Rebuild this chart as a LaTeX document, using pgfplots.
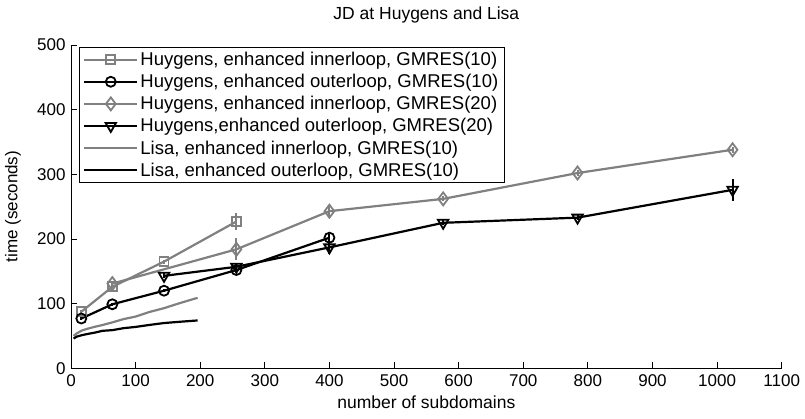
\documentclass[border=0pt]{standalone}
\usepackage{pgfplots}
\pgfplotsset{compat=1.18}
\usepackage{fontspec}
\setmainfont{Liberation Sans}
\definecolor{mg}{RGB}{128,128,128}
\begin{document}
\begin{tikzpicture}[x=1pt,y=1pt]
\useasboundingbox (-71,-50.7) rectangle (734,368.3);
\begin{axis}[
  at={(0pt,0pt)}, anchor=south west, scale only axis,
  width=710.7pt, height=323.3pt,
  xmin=0, xmax=1100, ymin=0, ymax=500,
  xtick={0,100,...,1100}, ytick={0,100,...,500},
  axis x line*=bottom, axis y line*=left,
  x axis line style={-}, y axis line style={-},
  axis line style={line width=0.8pt, black},
  tick align=inside, major tick length=6pt,
  tick style={line width=0.8pt, black},
  /pgf/number format/assume math mode=true,
  /pgf/number format/1000 sep={},
  tick label style={font=\fontsize{17}{20}\selectfont},
  xticklabel style={yshift=-3pt},
  yticklabel style={xshift=-2pt},
  xlabel={number of subdomains},
  ylabel={time (seconds)},
  title={JD at Huygens and Lisa},
  x label style={at={(axis description cs:0.5,0)}, anchor=center, yshift=-34pt, font=\fontsize{17.5}{20}\selectfont},
  y label style={at={(axis description cs:-0.0816,0.5)}, anchor=center, font=\fontsize{17}{20}\selectfont},
  title style={at={(axis description cs:0.5,1)}, anchor=center, yshift=24pt, font=\fontsize{17.5}{20}\selectfont},
  legend style={at={(axis description cs:0.01126,0.9938)}, anchor=north west,
    draw=black, fill=white,
    font=\fontsize{18.5}{20}\selectfont, inner xsep=4pt, inner ysep=3pt,
    row sep=3.2pt},
  legend cell align=left,
  legend image code/.code={\draw[mark repeat=2,mark phase=2,#1] plot coordinates {(0pt,0pt) (26.5pt,0pt) (53pt,0pt)};},
  error bars/error bar style={line width=2pt},
]
% Huygens, enhanced innerloop, GMRES(10)
\addplot[mg, line width=2.2pt, mark=square, mark size=4.5pt, mark options={line width=1.8pt},
  error bars/.cd, y dir=both, y explicit, error mark=none]
  coordinates {(16,87.5) +- (0,2) (64,126) +- (0,2) (144,165) +- (0,3) (256,227) +- (0,13)};
\addlegendentry{Huygens, enhanced innerloop, GMRES(10)}
% Huygens, enhanced outerloop, GMRES(10)
\addplot[black, line width=2.2pt, mark=o, mark size=5pt, mark options={line width=1.8pt},
  error bars/.cd, y dir=both, y explicit, error mark=none]
  coordinates {(16,77) +- (0,2) (64,99) +- (0,2) (144,120) +- (0,2) (256,152) +- (0,3) (400,202) +- (0,6)};
\addlegendentry{Huygens, enhanced outerloop, GMRES(10)}
% Huygens, enhanced innerloop, GMRES(20)
\addplot[mg, line width=2.2pt, mark=diamond, mark size=6.5pt, mark options={line width=1.8pt},
  error bars/.cd, y dir=both, y explicit, error mark=none]
  coordinates {(64,131) +- (0,3) (256,184) +- (0,17) (400,243) +- (0,10) (576,262) +- (0,4) (784,302) +- (0,4) (1024,338) +- (0,5)};
\addlegendentry{Huygens, enhanced innerloop, GMRES(20)}
% Huygens, enhanced outerloop, GMRES(20)
\addplot[black, line width=2.2pt, mark=triangle, mark size=6pt, mark options={line width=1.8pt, rotate=180},
  error bars/.cd, y dir=both, y explicit, error mark=none]
  coordinates {(144,143) +- (0,4) (256,157) +- (0,4) (400,187) +- (0,11) (576,225) +- (0,4) (784,233) +- (0,4) (1024,276) +- (0,17)};
\addlegendentry{Huygens,enhanced outerloop, GMRES(20)}
% Lisa, enhanced innerloop, GMRES(10)
\addplot[mg, line width=2.2pt, no marks] coordinates {
 (4,50) (9,54) (16,58) (25,61) (36,64) (49,67) (64,71) (81,76) (100,80) (121,87) (144,93) (169,101) (196,109)};
\addlegendentry{Lisa, enhanced innerloop, GMRES(10)}
% Lisa, enhanced outerloop, GMRES(10)
\addplot[black, line width=2.2pt, no marks] coordinates {
 (4,46) (9,49) (16,51) (25,53) (36,55) (49,58) (64,59) (81,62) (100,64) (121,67) (144,70) (169,72) (196,74)};
\addlegendentry{Lisa, enhanced outerloop, GMRES(10)}
\end{axis}
\end{tikzpicture}
\end{document}
